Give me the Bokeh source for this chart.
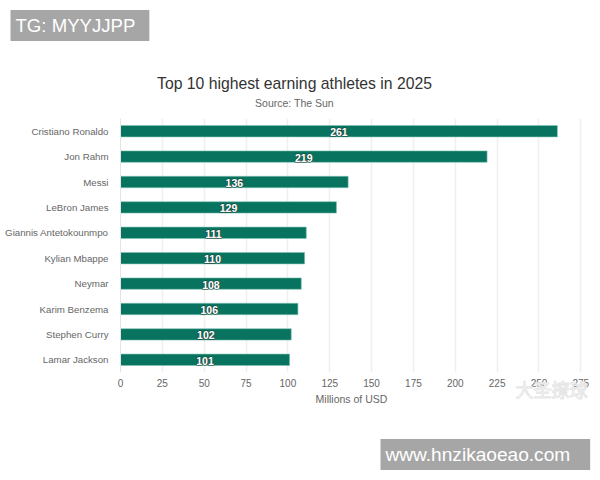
from bokeh.core.properties import value
from bokeh.embed import file_html
from bokeh.models import ColumnDataSource, Label, LabelSet, FixedTicker
from bokeh.plotting import figure
from bokeh.resources import INLINE

athletes = ["Cristiano Ronaldo", "Jon Rahm", "Messi", "LeBron James", "Giannis Antetokounmpo",
            "Kylian Mbappe", "Neymar", "Karim Benzema", "Stephen Curry", "Lamar Jackson"]
earnings = [261, 219, 136, 129, 111, 110, 108, 106, 102, 101]
x_ticks = [0, 25, 50, 75, 100, 125, 150, 175, 200, 225, 250, 275]

FONT = "Liberation Sans"
GREY = "#666666"

source = ColumnDataSource(data=dict(
    athlete=athletes,
    earning=earnings,
    middle=[v / 2 for v in earnings],
    text=[str(v) for v in earnings],
))

p = figure(width=600, height=480, y_range=athletes[::-1], x_range=(0, 276),
           output_backend="svg", toolbar_location=None,
           min_border_left=120, min_border_right=18, min_border_top=118, min_border_bottom=108,
           background_fill_color="white", border_fill_color="white")
p.outline_line_color = None

p.hbar(y="athlete", right="earning", left=0, height=0.45, source=source,
       fill_color="#08745f", line_color="#7fc4b6", line_width=0.6)

# white numbers with a dark edge: outlined copy first, clean copy on top
for edge in ["#1c3a33", None]:
    p.add_layout(LabelSet(x="middle", y="athlete", text="text", source=source, text_align="center",
                          text_baseline="middle", text_color="white", text_font=value(FONT),
                          text_font_style="bold", text_font_size="10.5px", y_offset=-1,
                          text_outline_color=edge))

p.xgrid.grid_line_color = "#efefef"
p.xgrid.grid_line_width = 1.5
p.ygrid.grid_line_color = None

p.xaxis.ticker = FixedTicker(ticks=x_ticks)
p.xaxis.axis_line_color = None
p.xaxis.major_tick_line_color = None
p.xaxis.major_tick_out = 0
p.xaxis.minor_tick_line_color = None
p.xaxis.major_label_text_font = FONT
p.xaxis.major_label_text_font_size = "10px"
p.xaxis.major_label_text_color = GREY
p.xaxis.major_label_standoff = 6
p.xaxis.axis_label = "Millions of USD"
p.xaxis.axis_label_text_font = FONT
p.xaxis.axis_label_text_font_size = "10.5px"
p.xaxis.axis_label_text_font_style = "normal"
p.xaxis.axis_label_text_color = GREY
p.xaxis.axis_label_standoff = 3

p.yaxis.axis_line_color = "#e4e4e4"
p.yaxis.major_tick_line_color = None
p.yaxis.major_tick_out = 0
p.yaxis.minor_tick_line_color = None
p.yaxis.major_label_text_font = FONT
p.yaxis.major_label_text_font_size = "9.7px"
p.yaxis.major_label_text_color = GREY
p.yaxis.major_label_standoff = 12

# title, subtitle and TG stamp live in the panel above the frame
p.add_layout(Label(x=174, y=35, x_units="screen", y_units="screen", text="Top 10 highest earning athletes in 2025",
                   text_align="center", text_baseline="middle", text_font=FONT,
                   text_font_size="15.75px", text_color="#333333"), "above")
p.add_layout(Label(x=174, y=-1, x_units="screen", y_units="screen", text="Source: The Sun",
                   text_align="center", text_baseline="middle", text_font=FONT,
                   text_font_size="10.5px", text_color=GREY), "above")
p.add_layout(Label(x=-110, y=64, x_units="screen", y_units="screen", text="TG: MYYJJPP", text_baseline="middle",
                   text_font=FONT, text_font_size="18.6px", text_color="white",
                   background_fill_color="#a6a6a6", padding=(5, 14, 5, 5)), "above")

# the other stamps below
p.add_layout(Label(x=260, y=-16, x_units="screen", y_units="screen", text="www.hnzikaoeao.com", text_baseline="middle",
                   text_font=FONT, text_font_size="19.1px", text_color="white",
                   background_fill_color="#a6a6a6", padding=(5, 20, 5, 5)), "below")
p.add_layout(Label(x=395, y=76, x_units="screen", y_units="screen", text="大圣撩球", text_baseline="middle",
                   text_font="Noto Sans CJK SC", text_font_size="18px", text_color="white",
                   text_outline_color="#e6e6e6"), "below")

open("out.html", "w").write(file_html(p, INLINE))
